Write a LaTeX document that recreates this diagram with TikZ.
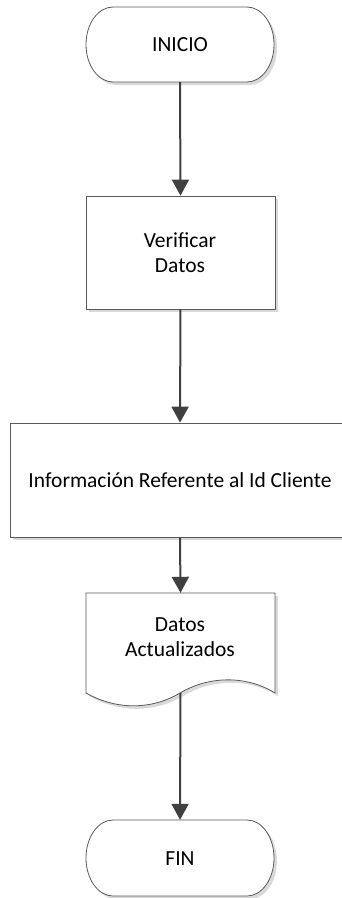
\documentclass[tikz,border=0pt]{standalone}
\usepackage{fontspec}
\setmainfont{Carlito}
\usetikzlibrary{arrows.meta}
\definecolor{arrowc}{HTML}{404040}
\definecolor{bordc}{HTML}{5A5A5A}
\definecolor{shadc}{HTML}{D9D9D9}
\begin{document}
\begin{tikzpicture}[x=1pt,y=-1pt,
  lab/.style={font=\fontsize{21.5}{24.5}\selectfont, align=center, inner sep=0pt, text=black},
  holder/.style={rectangle, draw=none, inner sep=0pt},
  edge/.style={draw=arrowc, line width=2pt, -{Triangle[length=16pt,width=17pt]}},
  shp/.style={draw=bordc, line width=0.8pt, fill=white},
  shd/.style={fill=shadc, draw=none}]
\useasboundingbox (0,0) rectangle (342,898);
\clip (0,0) rectangle (342,898);
\fill[white] (0,0) rectangle (342,898);

% ---- INICIO terminal
\foreach \s/\st in {3/shd,0/shp}{
  \path[\st, shift={(\s,\s)}] (113,7) -- (247,7)
    arc[start angle=-90,end angle=90,x radius=27,y radius=37.5]
    -- (113,82) arc[start angle=90,end angle=270,x radius=27,y radius=37.5] -- cycle;
}
\node[holder, minimum width=188pt, minimum height=75pt] (inicio) at (180,44.5) {};
\node[lab] (tinicio) at (180,44.5) {INICIO};

% ---- Verificar Datos
\fill[shadc] (89,199) rectangle (278,312);
\node[holder, shp, minimum width=189pt, minimum height=113pt] (verif) at (180.5,252.5) {};
\node[lab] (tverif) at (180,252.5) {Verificar\\Datos};

% ---- Informacion box
\fill[shadc] (13,426) rectangle (353,540);
\node[holder, shp, minimum width=340pt, minimum height=114pt] (info) at (180,480) {};
\node[lab] (tinfo) at (180,480) {Información Referente al Id Cliente};

% ---- Document
\foreach \s/\st in {3/shd,0/shp}{
  \path[\st, shift={(\s,\s)}] (86,593) -- (275,593) -- (275,693)
    .. controls (250,677) and (212,674) .. (180,693)
    .. controls (148,712) and (112,708) .. (86,693) -- cycle;
}
\node[holder, minimum width=189pt, minimum height=100pt] (doc) at (180.5,643) {};
\node[lab] (tdoc) at (180,637) {Datos\\Actualizados};

% ---- FIN terminal
\foreach \s/\st in {3/shd,0/shp}{
  \path[\st, shift={(\s,\s)}] (113,820) -- (247,820)
    arc[start angle=-90,end angle=90,x radius=27,y radius=38]
    -- (113,896) arc[start angle=90,end angle=270,x radius=27,y radius=38] -- cycle;
}
\node[holder, minimum width=188pt, minimum height=76pt] (fin) at (180,858) {};
\node[lab] (tfin) at (180,859) {FIN};

% ---- connectors
\draw[edge] (inicio.south) -- (verif.north);
\draw[edge] (verif.south) -- (info.north);
\draw[edge] (info.south) -- (doc.north);
\draw[edge] (doc.south) -- (fin.north);
\end{tikzpicture}
\end{document}
